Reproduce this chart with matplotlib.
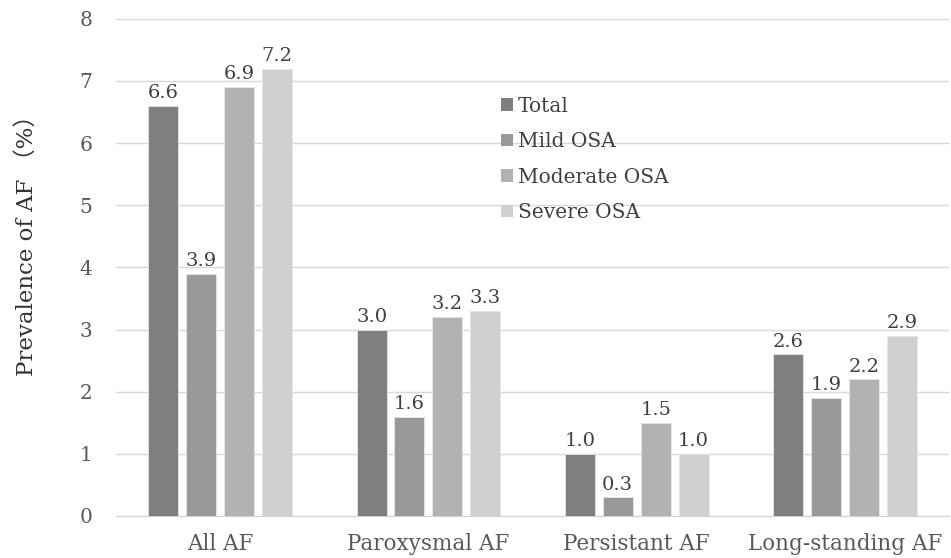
import matplotlib
matplotlib.use("Agg")
import matplotlib.pyplot as plt
import numpy as np
from matplotlib.patches import Patch

categories = ["All AF", "Paroxysmal AF", "Persistant AF", "Long-standing AF"]
series_names = ["Total", "Mild OSA", "Moderate OSA", "Severe OSA"]
total = [6.6, 3.0, 1.0, 2.6]
mild = [3.9, 1.6, 0.3, 1.9]
moderate = [6.9, 3.2, 1.5, 2.2]
severe = [7.2, 3.3, 1.0, 2.9]
colors = ["#7f7f7f", "#999999", "#b2b2b2", "#d0d0d0"]

plt.rcParams['font.family'] = ['DejaVu Serif', 'Noto Sans CJK JP']
txt = "#595959"

fig = plt.figure(figsize=(9.51, 5.58), dpi=100)
ax = fig.add_axes([0.122, 0.0753, 0.876, 0.891])

x = np.arange(len(categories))
step = 0.182
width = 0.144
for i, (vals, name, c) in enumerate(zip([total, mild, moderate, severe], series_names, colors)):
    pos = x + (i - 1.5) * step
    bars = ax.bar(pos, vals, width, color=c, edgecolor="#e6e6e6", linewidth=0.6, zorder=3, label=name)
    for b, v in zip(bars, vals):
        ax.text(b.get_x() + b.get_width() / 2, v + 0.06, f"{v:.1f}", ha="center", va="bottom",
                fontsize=14, color="#404040", zorder=4)

ax.set_xlim(-0.5, 3.5)
ax.set_ylim(0, 8)
ax.set_yticks(range(0, 9))
ax.set_xticks(x)
ax.set_xticklabels(categories, fontsize=15.5, color=txt)
ax.tick_params(axis="y", labelsize=14.5, labelcolor=txt, length=0, pad=17)
ax.tick_params(axis="x", length=0, pad=12)
ax.grid(axis="y", color="#d9d9d9", linewidth=1, zorder=0)
for s in ["top", "right", "left"]:
    ax.spines[s].set_visible(False)
ax.spines["bottom"].set_color("#d0d0d0")
fig.text(0.028, 0.57, "Prevalence of AF （%）", rotation=90, fontsize=16.5, color="#333333",
         ha="center", va="center")

handles = [Patch(facecolor=c, edgecolor="none") for c in colors]
leg = ax.legend(handles, series_names, loc="upper left", bbox_to_anchor=(0.445, 0.872),
                frameon=False, fontsize=14.5, handlelength=0.6, handleheight=0.6,
                handletextpad=0.25, labelspacing=0.82, labelcolor="#404040",
                borderpad=0.2)

fig.savefig("out.png", dpi=100)
